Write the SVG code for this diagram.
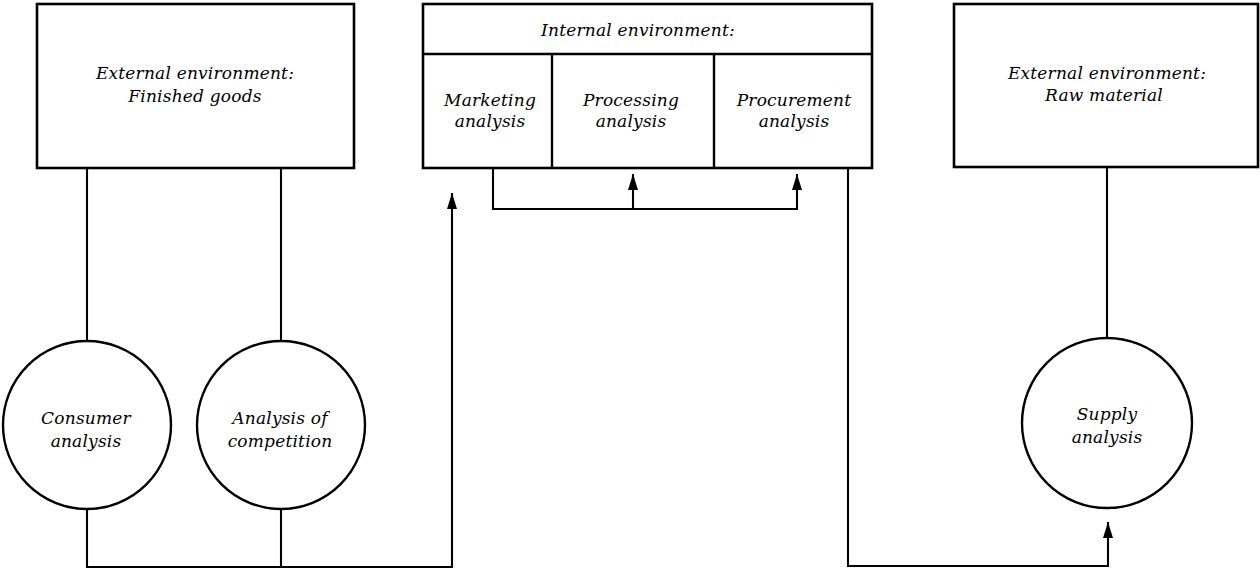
<svg xmlns="http://www.w3.org/2000/svg" width="1260" height="573" viewBox="0 0 1260 573">
<style>
.box{fill:#fff;stroke:#000;stroke-width:2.6}
.div{fill:none;stroke:#000;stroke-width:2.4}
.circ{fill:#fff;stroke:#000;stroke-width:2.4}
.ln{fill:none;stroke:#000;stroke-width:2.1}
text{font-family:"DejaVu Serif","Liberation Serif",serif;font-style:italic;font-size:17px;letter-spacing:0.2px;fill:#000;text-anchor:middle}
</style>
<defs>
<marker id="up" markerUnits="userSpaceOnUse" markerWidth="10" markerHeight="16" viewBox="0 0 10 16" refX="5" refY="0" orient="0">
<path d="M5,0 L10,16 L0,16 Z" fill="#000"/>
</marker>
</defs>
<rect width="1260" height="573" fill="#fff"/>
<g id="connectors">
<line class="ln" x1="87" y1="168" x2="87" y2="341"/>
<line class="ln" x1="281" y1="168" x2="281" y2="341"/>
<line class="ln" x1="1107" y1="167" x2="1107" y2="338"/>
<polyline class="ln" points="87,509 87,567 452,567 452,193" marker-end="url(#up)"/>
<line class="ln" x1="281" y1="509" x2="281" y2="567"/>
<polyline class="ln" points="493,168 493,209 797,209 797,174" marker-end="url(#up)"/>
<line class="ln" x1="633" y1="209" x2="633" y2="174" marker-end="url(#up)"/>
<polyline class="ln" points="848,168 848,566 1108,566 1108,522" marker-end="url(#up)"/>
</g>
<g id="ext-finished">
<rect class="box" x="37" y="4" width="317" height="164"/>
<text x="195" y="79">External environment:</text>
<text x="195" y="102">Finished goods</text>
</g>
<g id="internal">
<rect class="box" x="423" y="4" width="449" height="164"/>
<line class="div" x1="423" y1="54" x2="872" y2="54"/>
<line class="div" x1="552" y1="54" x2="552" y2="168"/>
<line class="div" x1="714" y1="54" x2="714" y2="168"/>
<text x="638" y="36">Internal environment:</text>
</g>
<g id="marketing">
<text x="490" y="106">Marketing</text>
<text x="490" y="127">analysis</text>
</g>
<g id="processing">
<text x="631" y="106">Processing</text>
<text x="631" y="127">analysis</text>
</g>
<g id="procurement">
<text x="794" y="106">Procurement</text>
<text x="794" y="127">analysis</text>
</g>
<g id="ext-raw">
<rect class="box" x="954" y="4" width="304" height="163"/>
<text x="1107" y="79">External environment:</text>
<text x="1104" y="101">Raw material</text>
</g>
<g id="consumer">
<circle class="circ" cx="87" cy="425" r="84"/>
<text x="86" y="424">Consumer</text>
<text x="86" y="447">analysis</text>
</g>
<g id="competition">
<circle class="circ" cx="281" cy="425" r="84"/>
<text x="280" y="424">Analysis of</text>
<text x="280" y="447">competition</text>
</g>
<g id="supply">
<circle class="circ" cx="1107" cy="423" r="85"/>
<text x="1107" y="420">Supply</text>
<text x="1107" y="443">analysis</text>
</g>
</svg>
